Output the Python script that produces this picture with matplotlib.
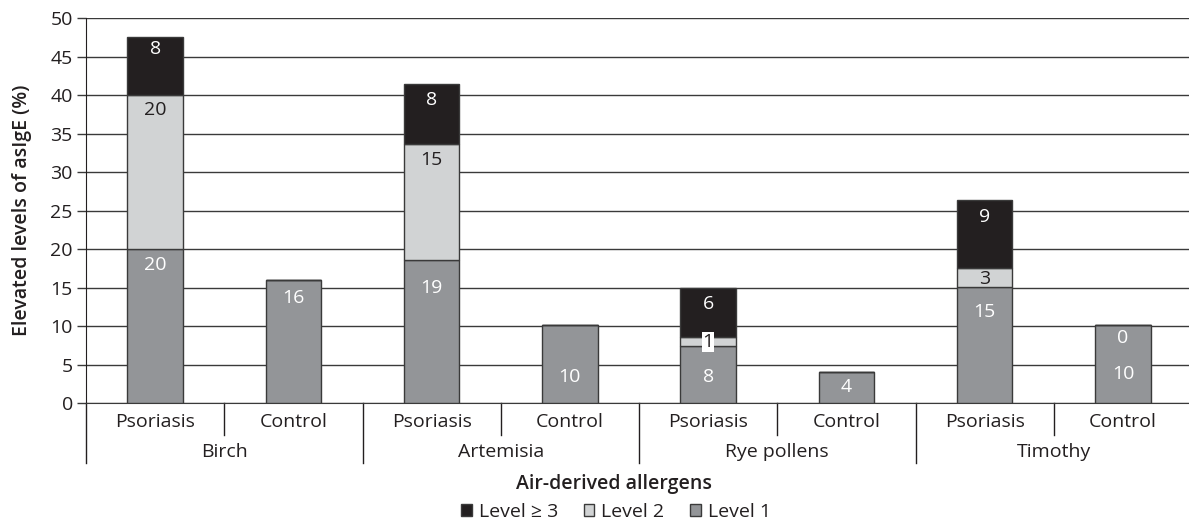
import matplotlib
matplotlib.use("Agg")
import matplotlib.pyplot as plt
from matplotlib.patches import Patch
from matplotlib.transforms import blended_transform_factory

plt.rcParams['font.family'] = ['Open Sans', 'DejaVu Sans']

# ---------------- data ----------------
allergens = ["Birch", "Artemisia", "Rye pollens", "Timothy"]
groups = ["Psoriasis", "Control"]
level1 = [20.0, 16.0, 18.6, 10.1, 7.45, 4.1, 15.1, 10.1]
level2 = [20.0, 0.0, 15.0, 0.0, 1.15, 0.0, 2.4, 0.0]
level3 = [7.5, 0.0, 7.8, 0.0, 6.4, 0.0, 8.9, 0.0]
level1_labels = ["20", "16", "19", "10", "8", "4", "15", "10"]
level2_labels = ["20", "", "15", "", "1", "", "3", "0"]
level3_labels = ["8", "", "8", "", "6", "", "9", ""]
yticks = [0, 5, 10, 15, 20, 25, 30, 35, 40, 45, 50]
legend_labels = ["Level \u2265 3", "Level 2", "Level 1"]

# ---------------- style ----------------
c1, c2, c3 = "#939598", "#d1d3d4", "#231f20"
edge = "#3a3a3a"
# label offsets (pixels below segment top)
off1 = [16, 18, 28, 52, 31, 15, 25, 49]
off2 = [15, 0, 16, 0, 5, 0, 11, 13]
off3 = [12, 0, 16, 0, 16.5, 0, 16.7, 0]

W, H = 1189, 526
fig = plt.figure(figsize=(W / 100, H / 100), dpi=100)
ax = fig.add_axes([86 / W, 1 - 403.3 / H, (1192 - 86) / W, 385.3 / H])

n = len(level1)
x = list(range(n))
bw = 0.40
b2 = [a for a in level1]
b3 = [a + b for a, b in zip(level1, level2)]
ax.bar(x, level1, bw, color=c1, edgecolor=edge, linewidth=1.0, zorder=3)
ax.bar(x, level2, bw, bottom=b2, color=c2, edgecolor=edge, linewidth=1.0, zorder=3)
ax.bar(x, level3, bw, bottom=b3, color=c3, edgecolor=edge, linewidth=1.0, zorder=3)

fs = 14
px2pt = 0.72
for i in range(n):
    top1 = level1[i]
    top2 = level1[i] + level2[i]
    top3 = top2 + level3[i]
    if level1_labels[i]:
        ax.annotate(level1_labels[i], (i, top1), xytext=(0, -off1[i] * px2pt),
                    textcoords='offset points', ha='center', va='center',
                    color='white', fontsize=fs, zorder=5)
    if level2_labels[i]:
        kw = {}
        if level2[i] > 0 and level2[i] < 2:
            kw['bbox'] = dict(facecolor='white', edgecolor='none', pad=0.6)
        col = 'white' if level2[i] == 0 else '#231f20'
        ax.annotate(level2_labels[i], (i, top2), xytext=(0, -off2[i] * px2pt),
                    textcoords='offset points', ha='center', va='center',
                    color=col, fontsize=fs, zorder=5, **kw)
    if level3_labels[i]:
        ax.annotate(level3_labels[i], (i, top3), xytext=(0, -off3[i] * px2pt),
                    textcoords='offset points', ha='center', va='center',
                    color='white', fontsize=fs, zorder=5)

ax.set_xlim(-0.5, n - 0.5)
ax.set_ylim(0, 50)
ax.set_yticks(yticks)
ax.set_yticklabels([str(t) for t in yticks], fontsize=fs, color='#231f20')
ax.yaxis.grid(True, color='#3a3a3a', linewidth=1.0)
ax.set_axisbelow(True)
ax.set_xticks([])
ax.tick_params(axis='y', length=6.5, width=1.0, color='#3a3a3a', pad=3)
for s in ['top', 'right']:
    ax.spines[s].set_visible(False)
ax.spines['left'].set_color('#231f20')
ax.spines['bottom'].set_color('#3a3a3a')

# multi-level category axis
tr = blended_transform_factory(ax.transData, ax.transAxes)
for i in range(n):
    ax.text(i, -0.0485, groups[i % 2], transform=tr, ha='center', va='center',
            fontsize=fs, color='#231f20')
for g, name in enumerate(allergens):
    ax.text(2 * g + 0.5, -0.1256, name, transform=tr, ha='center', va='center',
            fontsize=fs, color='#231f20')
for i in range(n):
    xs = i - 0.5
    if i % 2 == 0:
        ax.plot([xs, xs], [0, -0.154], transform=tr, color='#231f20', lw=1.0, clip_on=False)
    else:
        ax.plot([xs, xs], [0, -0.0823], transform=tr, color='#231f20', lw=1.0, clip_on=False)

ax.text(0.5 * (n - 1) - 0.18, -0.209, "Air-derived allergens", transform=tr,
        ha='center', va='center', fontsize=fs, fontweight='semibold', color='#231f20')

fig.text(22 / W, 1 - 210 / H, "Elevated levels of asIgE (%)", rotation=90,
         ha='center', va='center', fontsize=fs, fontweight='semibold', color='#231f20')

handles = [Patch(facecolor=c3, edgecolor=edge), Patch(facecolor=c2, edgecolor=edge),
           Patch(facecolor=c1, edgecolor=edge)]
fig.legend(handles, legend_labels, loc='center', bbox_to_anchor=(616 / W, 1 - 512 / H),
           ncol=3, frameon=False, fontsize=fs, handlelength=0.55, handleheight=0.55,
           handletextpad=0.36, columnspacing=1.3, borderpad=0, labelcolor='#231f20')

fig.savefig("out.png", dpi=100)
